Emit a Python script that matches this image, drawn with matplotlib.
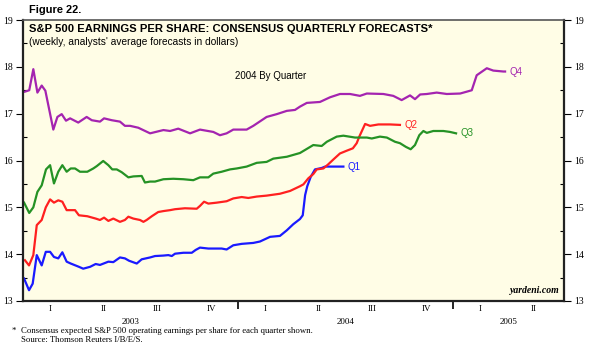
import numpy as np
import matplotlib
matplotlib.use("agg")
import matplotlib.pyplot as plt
import matplotlib.transforms as mtransforms

# weekly consensus forecasts, x in decimal years
q1_x = [2003.005, 2003.028, 2003.045, 2003.064, 2003.087, 2003.106, 2003.126, 2003.144, 2003.164,
        2003.183, 2003.203, 2003.222, 2003.260, 2003.280, 2003.312, 2003.338, 2003.358, 2003.397,
        2003.420, 2003.451, 2003.474, 2003.493, 2003.529, 2003.552, 2003.591, 2003.614, 2003.653,
        2003.676, 2003.692, 2003.707, 2003.746, 2003.785, 2003.803, 2003.823, 2003.862, 2003.924,
        2003.947, 2003.978, 2004.017, 2004.071, 2004.102, 2004.149, 2004.195, 2004.227, 2004.257,
        2004.288, 2004.301, 2004.312, 2004.322, 2004.338, 2004.358, 2004.389, 2004.405, 2004.490]
q1_y = [13.48, 13.23, 13.37, 13.98, 13.76, 14.05, 14.05, 13.94, 13.91,
        14.04, 13.84, 13.80, 13.73, 13.69, 13.73, 13.79, 13.77, 13.84,
        13.83, 13.93, 13.91, 13.86, 13.80, 13.89, 13.93, 13.96, 13.97,
        13.98, 13.96, 14.01, 14.03, 14.03, 14.09, 14.14, 14.12, 14.12,
        14.10, 14.19, 14.22, 14.24, 14.27, 14.37, 14.39, 14.51, 14.64,
        14.75, 14.83, 15.26, 15.45, 15.65, 15.81, 15.84, 15.87, 15.87]

q2_x = [2003.009, 2003.028, 2003.048, 2003.064, 2003.087, 2003.106, 2003.126, 2003.144, 2003.164,
        2003.183, 2003.203, 2003.242, 2003.260, 2003.299, 2003.338, 2003.358, 2003.377, 2003.397,
        2003.420, 2003.451, 2003.474, 2003.490, 2003.513, 2003.544, 2003.560, 2003.575, 2003.599,
        2003.629, 2003.653, 2003.684, 2003.707, 2003.753, 2003.808, 2003.823, 2003.842, 2003.862,
        2003.901, 2003.947, 2003.978, 2004.017, 2004.048, 2004.087, 2004.133, 2004.195, 2004.242,
        2004.288, 2004.304, 2004.327, 2004.350, 2004.366, 2004.397, 2004.420, 2004.443, 2004.474,
        2004.506, 2004.534, 2004.552, 2004.564, 2004.591, 2004.614, 2004.653, 2004.707, 2004.753]
q2_y = [13.87, 13.76, 13.98, 14.62, 14.73, 15.00, 15.17, 15.10, 15.15,
        15.12, 14.94, 14.94, 14.83, 14.81, 14.76, 14.73, 14.78, 14.71,
        14.76, 14.69, 14.73, 14.80, 14.76, 14.73, 14.69, 14.73, 14.81,
        14.90, 14.92, 14.94, 14.96, 14.98, 14.97, 15.03, 15.12, 15.08,
        15.10, 15.13, 15.19, 15.22, 15.20, 15.23, 15.25, 15.29, 15.35,
        15.45, 15.49, 15.62, 15.71, 15.81, 15.83, 15.92, 16.02, 16.15,
        16.21, 16.26, 16.37, 16.51, 16.78, 16.74, 16.77, 16.77, 16.76]

q3_x = [2003.005, 2003.029, 2003.048, 2003.067, 2003.087, 2003.107, 2003.126, 2003.144, 2003.164,
        2003.183, 2003.203, 2003.222, 2003.242, 2003.265, 2003.299, 2003.327, 2003.343, 2003.373,
        2003.397, 2003.415, 2003.436, 2003.459, 2003.490, 2003.513, 2003.552, 2003.567, 2003.591,
        2003.614, 2003.653, 2003.699, 2003.746, 2003.792, 2003.823, 2003.862, 2003.885, 2003.924,
        2003.963, 2003.994, 2004.040, 2004.087, 2004.133, 2004.164, 2004.227, 2004.288, 2004.350,
        2004.389, 2004.413, 2004.459, 2004.490, 2004.544, 2004.599, 2004.622, 2004.660, 2004.692,
        2004.730, 2004.753, 2004.781, 2004.803, 2004.823, 2004.843, 2004.862, 2004.878, 2004.908,
        2004.955, 2004.986, 2005.014]
q3_y = [15.10, 14.88, 15.00, 15.33, 15.47, 15.81, 15.90, 15.51, 15.76,
        15.90, 15.76, 15.83, 15.83, 15.76, 15.76, 15.83, 15.88, 15.99,
        15.90, 15.81, 15.81, 15.75, 15.64, 15.66, 15.67, 15.53, 15.55,
        15.55, 15.60, 15.61, 15.60, 15.58, 15.64, 15.64, 15.72, 15.76,
        15.81, 15.83, 15.87, 15.95, 15.97, 16.04, 16.08, 16.16, 16.33,
        16.31, 16.40, 16.51, 16.53, 16.49, 16.49, 16.47, 16.51, 16.49,
        16.40, 16.37, 16.29, 16.24, 16.33, 16.54, 16.63, 16.59, 16.63,
        16.63, 16.61, 16.58]

q4_x = [2003.009, 2003.029, 2003.048, 2003.067, 2003.087, 2003.104, 2003.141, 2003.160, 2003.180,
        2003.200, 2003.219, 2003.257, 2003.296, 2003.320, 2003.358, 2003.377, 2003.413, 2003.451,
        2003.474, 2003.498, 2003.536, 2003.591, 2003.653, 2003.684, 2003.722, 2003.777, 2003.823,
        2003.885, 2003.916, 2003.947, 2003.978, 2004.040, 2004.071, 2004.133, 2004.180, 2004.227,
        2004.265, 2004.288, 2004.320, 2004.381, 2004.428, 2004.474, 2004.521, 2004.567, 2004.599,
        2004.676, 2004.722, 2004.761, 2004.800, 2004.823, 2004.847, 2004.878, 2004.924, 2004.971,
        2005.033, 2005.064, 2005.087, 2005.110, 2005.157, 2005.187, 2005.234, 2005.242]
q4_y = [17.47, 17.50, 17.95, 17.45, 17.60, 17.49, 16.66, 16.93, 16.99,
        16.85, 16.90, 16.81, 16.93, 16.86, 16.83, 16.90, 16.86, 16.83,
        16.74, 16.74, 16.70, 16.58, 16.65, 16.63, 16.68, 16.58, 16.66,
        16.61, 16.54, 16.58, 16.66, 16.66, 16.74, 16.93, 16.99, 17.06,
        17.08, 17.15, 17.23, 17.25, 17.35, 17.42, 17.42, 17.38, 17.43,
        17.42, 17.38, 17.29, 17.39, 17.31, 17.41, 17.42, 17.45, 17.42,
        17.43, 17.47, 17.50, 17.82, 17.97, 17.92, 17.90, 17.90]

series_names = ["Q1", "Q2", "Q3", "Q4"]
series_colors = ["#1a1aff", "#ff2020", "#259225", "#a424b0"]

quarter_labels = ["I", "II", "III", "IV", "I", "II", "III", "IV", "I", "II"]
year_labels = ["2003", "2004", "2005"]

serif = ["Liberation Serif", "DejaVu Serif"]
sans = ["Liberation Sans", "DejaVu Sans"]

fig = plt.figure(figsize=(5.94, 3.44), dpi=100)
ax = fig.add_axes([23/594, 43/344, 541/594, 281/344])
ax.set_facecolor("#fffde6")

xs = [q1_x, q2_x, q3_x, q4_x]
ys = [q1_y, q2_y, q3_y, q4_y]
for x, y, name, c in zip(xs, ys, series_names, series_colors):
    ax.plot(x, y, color=c, lw=1.6, solid_joinstyle="round")
    ax.annotate(name, xy=(x[-1], y[-1]), xytext=(3, 0), textcoords="offset points",
                color=c, fontsize=7, family=sans, va="center", ha="left")

ax.set_xlim(2003.0, 2005.516)
ax.set_ylim(13, 19)

# y axis: labels on both sides, minor half-steps inward
ax.set_yticks(np.arange(13, 20, 1))
ax.set_yticks(np.arange(13.5, 19, 1), minor=True)
ax.tick_params(axis="y", which="major", direction="out", length=5, width=0.8,
               left=True, right=True, labelleft=True, labelright=True, labelsize=7, pad=2)
ax.tick_params(axis="y", which="minor", direction="in", length=3, width=0.8,
               left=True, right=True)
for lab in ax.get_yticklabels():
    lab.set_family(serif)

# x axis: year boundaries as ticks, quarter names under each quarter
ax.set_xticks([2004.0, 2005.0])
ax.set_xticklabels([])
ax.tick_params(axis="x", which="major", direction="out", length=6, width=1.2)
qmid = [2003 + 0.125 + 0.25 * i for i in range(len(quarter_labels))]
ax.set_xticks(qmid, minor=True)
ax.set_xticklabels(quarter_labels, minor=True, fontsize=6.5, family=serif)
ax.tick_params(axis="x", which="minor", length=0, pad=3)

trans = mtransforms.blended_transform_factory(ax.transData, ax.transAxes)
for i, yl in enumerate(year_labels):
    ax.text(int(yl) + 0.5 if i < 2 else 2005.26, -0.062, yl, transform=trans,
            ha="center", va="top", fontsize=6.5, family=serif)

for side in ["left", "right", "bottom"]:
    ax.spines[side].set_linewidth(1.6)
    ax.spines[side].set_color("#222222")
ax.spines["top"].set_linewidth(1.2)
ax.spines["top"].set_color("#555555")

fig.text(29/594, 1 - 10/344, "Figure 22.", fontsize=7.9, fontweight="bold",
         family=sans, va="center", ha="left")
fig.text(29/594, 1 - 29/344, "S&P 500 EARNINGS PER SHARE: CONSENSUS QUARTERLY FORECASTS*",
         fontsize=8.15, fontweight="bold", family=sans, va="center", ha="left")
fig.text(29/594, 1 - 42/344, "(weekly, analysts' average forecasts in dollars)",
         fontsize=7.25, family=sans, va="center", ha="left")
ax.text(0.457, 0.80, "2004 By Quarter", transform=ax.transAxes, fontsize=7,
        family=sans, ha="center", va="center")
ax.text(0.993, 0.02, "yardeni.com", transform=ax.transAxes, fontsize=7,
        family=serif, fontweight="bold", style="italic", ha="right", va="bottom")

fig.text(12/594, 1 - 331/344, "*", fontsize=6.3, family=serif, va="center")
fig.text(21/594, 1 - 331/344,
         "Consensus expected S&P 500 operating earnings per share for each quarter shown.",
         fontsize=6.3, family=serif, va="center")
fig.text(21/594, 1 - 340/344, "Source: Thomson Reuters I/B/E/S.",
         fontsize=6.3, family=serif, va="center")

fig.savefig("out.png", dpi=100, facecolor="white")
